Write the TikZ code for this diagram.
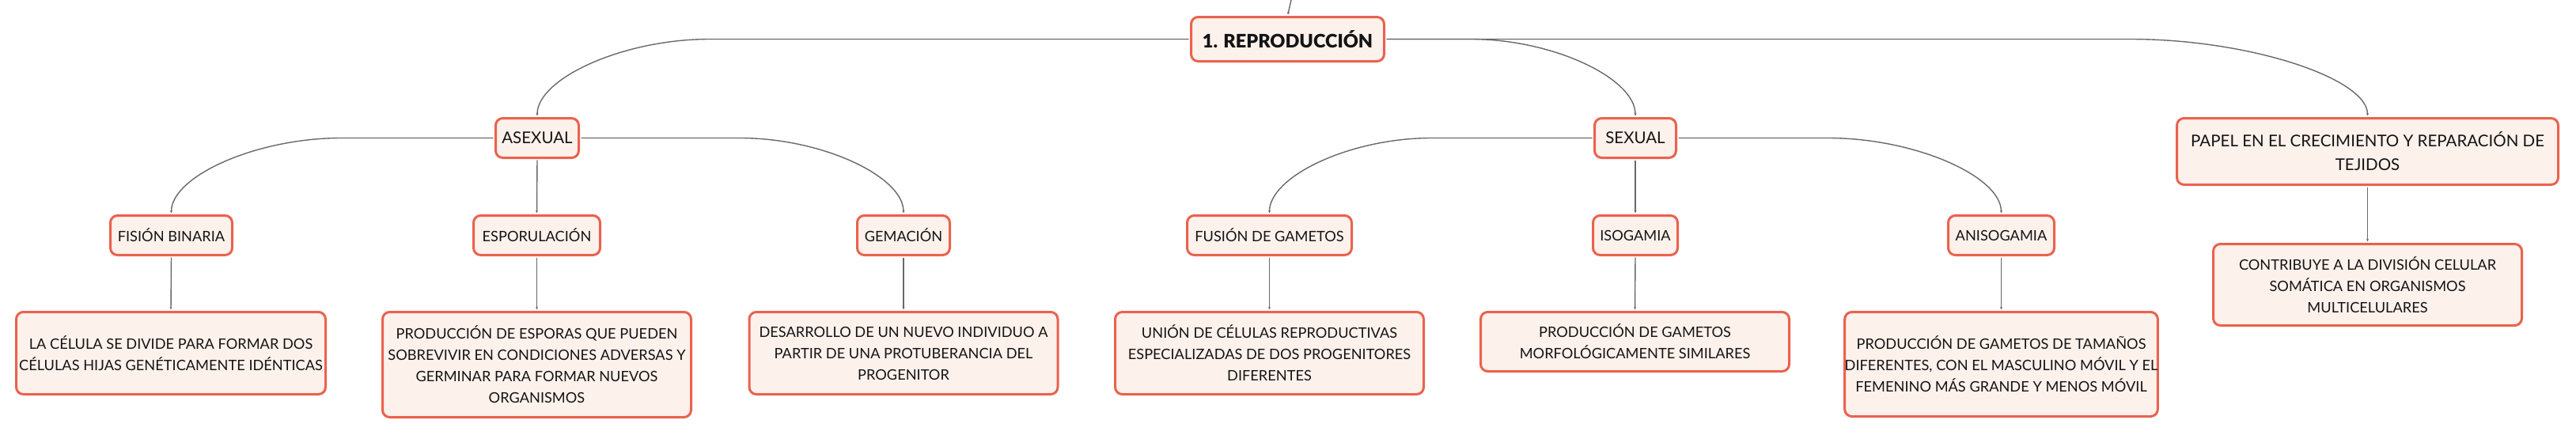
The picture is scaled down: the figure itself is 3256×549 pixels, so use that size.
\documentclass[tikz,border=0pt]{standalone}
\usepackage{fontspec}
\setmainfont{Lato}
\newfontfamily\heavyfont{Lato Black}
\usetikzlibrary{arrows.meta,calc}
\definecolor{boxfill}{RGB}{253,241,236}
\definecolor{boxline}{RGB}{234,98,78}
\definecolor{connc}{RGB}{105,105,105}
\definecolor{ink}{RGB}{20,20,20}
\begin{document}
\begin{tikzpicture}[x=1pt,y=-1pt,
  box/.style={draw=boxline, fill=boxfill, line width=3pt, rounded corners=9pt,
    inner sep=0pt, align=center, text=ink},
  lvlroot/.style={box, font=\fontsize{23.5}{30}\selectfont\heavyfont},
  lvlone/.style={box, font=\fontsize{20.5}{30}\selectfont},
  lvltwo/.style={box, font=\fontsize{18.2}{27}\selectfont},
  leafbox/.style={box, font=\fontsize{18.2}{27}\selectfont},
  link/.style={draw=connc, line width=1.4pt, shorten >=1.5pt, shorten <=1.5pt,
    -{Stealth[length=3.5pt,width=3pt]}}]
\fill[white] (0,0) rectangle (3256,549);
\useasboundingbox (0,0) rectangle (3256,549);

% root
\node[lvlroot, minimum width=244pt, minimum height=56pt] (root) at (1627.5,49.5) {1. REPRODUCCIÓN};
% level 1
\node[lvlone, minimum width=105pt, minimum height=50pt] (asex) at (679,174.5) {ASEXUAL};
\node[lvlone, minimum width=103pt, minimum height=50pt] (sex) at (2067,174.5) {SEXUAL};
\node[lvlone, minimum width=482pt, minimum height=84pt] (papel) at (2992.5,191.5) {PAPEL EN EL CRECIMIENTO Y REPARACIÓN DE\\TEJIDOS};
% level 2
\node[lvltwo, minimum width=154pt, minimum height=50pt] (fis) at (216.5,297.5) {FISIÓN BINARIA};
\node[lvltwo, minimum width=160pt, minimum height=50pt] (esp) at (678.5,297.5) {ESPORULACIÓN};
\node[lvltwo, minimum width=117pt, minimum height=50pt] (gem) at (1142,297.5) {GEMACIÓN};
\node[lvltwo, minimum width=208pt, minimum height=50pt] (fus) at (1604.5,297.5) {FUSIÓN DE GAMETOS};
\node[lvltwo, minimum width=107pt, minimum height=50pt] (iso) at (2067,297.5) {ISOGAMIA};
\node[lvltwo, minimum width=134pt, minimum height=50pt] (aniso) at (2529.5,297.5) {ANISOGAMIA};
% leaves
\node[leafbox, minimum width=391pt, minimum height=104pt] (lcel) at (216,446.5) {LA CÉLULA SE DIVIDE PARA FORMAR DOS\\CÉLULAS HIJAS GENÉTICAMENTE IDÉNTICAS};
\node[leafbox, minimum width=390pt, minimum height=133pt] (lesp) at (678.5,461) {PRODUCCIÓN DE ESPORAS QUE PUEDEN\\SOBREVIVIR EN CONDICIONES ADVERSAS Y\\GERMINAR PARA FORMAR NUEVOS\\ORGANISMOS};
\node[leafbox, minimum width=390pt, minimum height=104pt] (ldes) at (1142,446.5) {DESARROLLO DE UN NUEVO INDIVIDUO A\\PARTIR DE UNA PROTUBERANCIA DEL\\PROGENITOR};
\node[leafbox, minimum width=390pt, minimum height=104pt] (luni) at (1604.5,446.5) {UNIÓN DE CÉLULAS REPRODUCTIVAS\\ESPECIALIZADAS DE DOS PROGENITORES\\DIFERENTES};
\node[leafbox, minimum width=390pt, minimum height=75pt] (lmor) at (2066.5,432) {PRODUCCIÓN DE GAMETOS\\MORFOLÓGICAMENTE SIMILARES};
\node[leafbox, minimum width=390pt, minimum height=132pt] (ltam) at (2529.5,460.5) {PRODUCCIÓN DE GAMETOS DE TAMAÑOS\\DIFERENTES, CON EL MASCULINO MÓVIL Y EL\\FEMENINO MÁS GRANDE Y MENOS MÓVIL};
\node[leafbox, minimum width=390pt, minimum height=103pt] (lcon) at (2992.5,360) {CONTRIBUYE A LA DIVISIÓN CELULAR\\SOMÁTICA EN ORGANISMOS\\MULTICELULARES};

% incoming connector from above
\coordinate (incoming) at (1632,0);
\draw[link, shorten <=0pt] (incoming) -- (root.north);

% root -> level 1
\draw[link] (root.west) -- ($(asex.north |- root.west)+(218,0)$)
  .. controls ($(asex.north |- root.west)+(109,0)$) and ($(asex.north)+(0,-49)$) .. (asex.north);
\draw[link] (root.east) -- ($(sex.north |- root.east)+(-208,0)$)
  .. controls ($(sex.north |- root.east)+(-104,0)$) and ($(sex.north)+(0,-49)$) .. (sex.north);
\draw[link] (root.east) -- ($(papel.north |- root.east)+(-300,0)$)
  .. controls ($(papel.north |- root.east)+(-150,0)$) and ($(papel.north)+(0,-49)$) .. (papel.north);

% asexual -> level 2
\draw[link] (asex.west) -- ($(fis.north |- asex.west)+(215,0)$)
  .. controls ($(fis.north |- asex.west)+(107,0)$) and ($(fis.north)+(0,-48)$) .. (fis.north);
\draw[link] (asex.south) -- (esp.north);
\draw[link] (asex.east) -- ($(gem.north |- asex.east)+(-207,0)$)
  .. controls ($(gem.north |- asex.east)+(-103,0)$) and ($(gem.north)+(0,-48)$) .. (gem.north);

% sexual -> level 2
\draw[link] (sex.west) -- ($(fus.north |- sex.west)+(205,0)$)
  .. controls ($(fus.north |- sex.west)+(102,0)$) and ($(fus.north)+(0,-48)$) .. (fus.north);
\draw[link] (sex.south) -- (iso.north);
\draw[link] (sex.east) -- ($(aniso.north |- sex.east)+(-219,0)$)
  .. controls ($(aniso.north |- sex.east)+(-109,0)$) and ($(aniso.north)+(0,-48)$) .. (aniso.north);

% level 2 -> leaves
\draw[link] (fis.south) -- (lcel.north);
\draw[link] (esp.south) -- (lesp.north);
\draw[link] (gem.south) -- (ldes.north);
\draw[link] (fus.south) -- (luni.north);
\draw[link] (iso.south) -- (lmor.north);
\draw[link] (aniso.south) -- (ltam.north);
\draw[link] (papel.south) -- (lcon.north);
\end{tikzpicture}
\end{document}
